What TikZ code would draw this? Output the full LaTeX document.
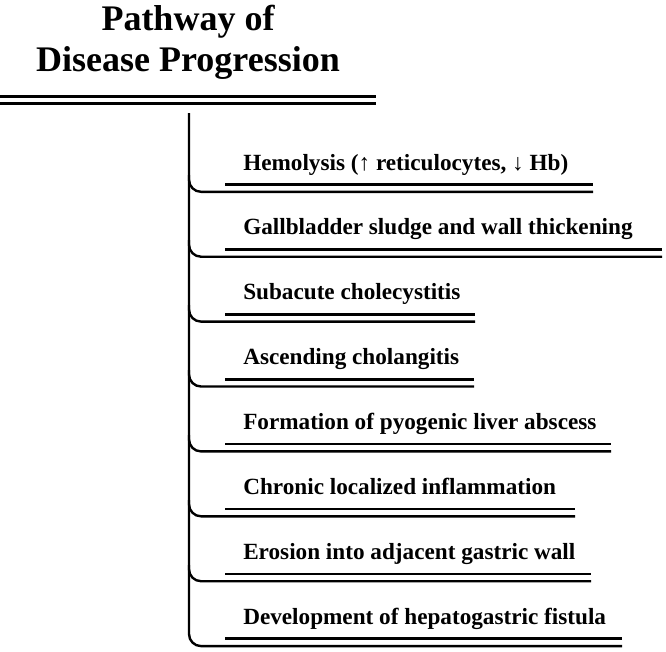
\documentclass[tikz,border=0pt]{standalone}
\usepackage{fontspec}
\setmainfont{Liberation Serif}
\usepackage{tikz}

\tikzset{
  steptext/.style={anchor=base west,inner sep=0pt,font=\fontsize{17.4}{20}\selectfont\bfseries},
  titletext/.style={anchor=base,inner sep=0pt,font=\fontsize{27}{30}\selectfont\bfseries},
  rule/.style={line width=2pt},
  stem/.style={line width=1.8pt,rounded corners=9},
}

\begin{document}
\begin{tikzpicture}[x=0.75pt,y=0.75pt,yscale=-1,xscale=1]
\useasboundingbox (0,0) rectangle (666,651);

% Text Node
\node [titletext] (title1) at (188,30) {Pathway of};
% Text Node
\node [titletext] (title2) at (188,71) {Disease Progression};
%Straight Lines
\draw [line width=2.3pt] (0,96.5) -- (376,96.5) ;
\draw [line width=2.3pt] (0,103.5) -- (376,103.5) ;

%Straight Lines  (stem, ends in the last branch)
\coordinate (top) at (189,113);
\draw [stem] (top) -- (189,646.1) -- (622,646.1) ;

% Text Node
\node [steptext] (s1) at (243,170) {Hemolysis (↑ reticulocytes, ↓ Hb)};
\draw [rule] (225,184.5) -- (593,184.5) ;
\draw [stem] (189,175) -- (189,191.8) -- (593,191.8) ;

% Text Node
\node [steptext] (s2) at (243,234.9) {Gallbladder sludge and wall thickening};
\draw [rule] (225,249.4) -- (662,249.4) ;
\draw [stem] (189,240) -- (189,256.7) -- (662,256.7) ;

% Text Node
\node [steptext] (s3) at (243,299.8) {Subacute cholecystitis};
\draw [rule] (225,314.3) -- (475,314.3) ;
\draw [stem] (189,305) -- (189,321.6) -- (475,321.6) ;

% Text Node
\node [steptext] (s4) at (243,364.7) {Ascending cholangitis};
\draw [rule] (225,379.2) -- (474,379.2) ;
\draw [stem] (189,370) -- (189,386.5) -- (474,386.5) ;

% Text Node
\node [steptext] (s5) at (243,429.6) {Formation of pyogenic liver abscess};
\draw [rule] (225,444.1) -- (611,444.1) ;
\draw [stem] (189,435) -- (189,451.4) -- (611,451.4) ;

% Text Node
\node [steptext] (s6) at (243,494.5) {Chronic localized inflammation};
\draw [rule] (225,509) -- (575,509) ;
\draw [stem] (189,500) -- (189,516.3) -- (575,516.3) ;

% Text Node
\node [steptext] (s7) at (243,559.4) {Erosion into adjacent gastric wall};
\draw [rule] (225,573.9) -- (591,573.9) ;
\draw [stem] (189,565) -- (189,581.2) -- (591,581.2) ;

% Text Node
\node [steptext] (s8) at (243,624.3) {Development of hepatogastric fistula};
\draw [rule] (225,638.8) -- (622,638.8) ;

\end{tikzpicture}
\end{document}
